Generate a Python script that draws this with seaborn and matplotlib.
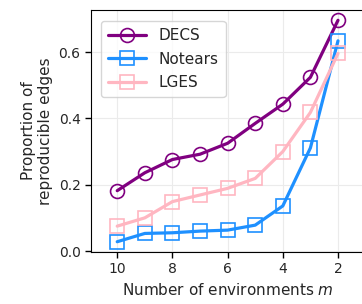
import matplotlib
matplotlib.use("Agg")
import matplotlib.pyplot as plt
import seaborn as sns
import pandas as pd

m_values = [10, 9, 8, 7, 6, 5, 4, 3, 2]
decs = [0.182, 0.236, 0.276, 0.292, 0.325, 0.385, 0.443, 0.524, 0.696]
notears = [0.028, 0.053, 0.055, 0.060, 0.063, 0.078, 0.136, 0.311, 0.634]
lges = [0.075, 0.100, 0.149, 0.169, 0.189, 0.219, 0.300, 0.418, 0.596]
x_ticks = [10, 8, 6, 4, 2]
y_ticks = [0.0, 0.2, 0.4, 0.6]

sns.set_style("whitegrid", {
    "axes.edgecolor": "black",
    "grid.color": "#ebebeb",
    "xtick.bottom": True,
    "ytick.left": True,
    "axes.linewidth": 1.0,
})
plt.rcParams["font.family"] = ["DejaVu Sans"]

fig = plt.figure(figsize=(3.62, 3.04), dpi=100)
ax = fig.add_axes([91 / 362, 52 / 304, 274.6 / 362, 242 / 304])

series = [
    ("DECS", decs, "#800080", "o"),
    ("Notears", notears, "#1E90FF", "s"),
    ("LGES", lges, "#FFB6C1", "s"),
]
for name, vals, color, mk in series:
    df = pd.DataFrame({"m": m_values, "v": vals})
    sns.lineplot(data=df, x="m", y="v", ax=ax, color=color, linewidth=2.3,
                 marker=mk, markersize=10, markerfacecolor="none",
                 markeredgecolor=color, markeredgewidth=1.2, label=name)

ax.set_xlim(10.95, 1.0)
ax.set_ylim(-0.003, 0.727)
ax.set_xticks(x_ticks)
ax.set_xticklabels([str(t) for t in x_ticks])
ax.set_yticks(y_ticks)
ax.set_yticklabels([f"{t:.1f}" for t in y_ticks])
ax.tick_params(axis="both", labelsize=10, length=4, width=1, color="black")
ax.set_xlabel("Number of environments $m$", fontsize=11)
ax.set_ylabel("Proportion of\nreproducible edges", fontsize=11)
ax.spines["right"].set_visible(False)

leg = ax.legend(loc="upper left", fontsize=11, frameon=True,
                bbox_to_anchor=(0.01, 0.985), handlelength=2.5,
                labelspacing=0.55, borderpad=0.45)
leg.get_frame().set_edgecolor("#cccccc")

fig.savefig("out.png", dpi=100)
